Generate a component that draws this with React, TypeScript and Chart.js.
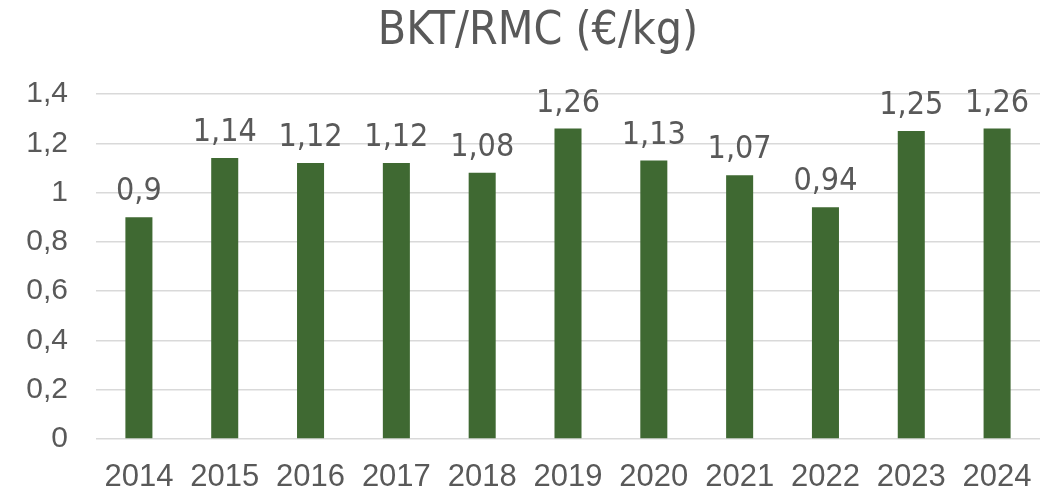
import React, { useEffect, useRef } from "react";
import { Chart, registerables } from "chart.js";

Chart.register(...registerables);

const categories = ["2014", "2015", "2016", "2017", "2018", "2019", "2020", "2021", "2022", "2023", "2024"];
const values = [0.9, 1.14, 1.12, 1.12, 1.08, 1.26, 1.13, 1.07, 0.94, 1.25, 1.26];
const yTicks = [0, 0.2, 0.4, 0.6, 0.8, 1, 1.2, 1.4];
const titleText = "BKT/RMC (€/kg)";

const fmt = (v: number) => String(Math.round(v * 100) / 100).replace(".", ",");

const dataLabels = {
  id: "dataLabels",
  afterLayout(chart: any) {
    if (chart.titleBlock) {
      chart.titleBlock.left = 36;
    }
  },
  afterDatasetsDraw(chart: any) {
    const ctx = chart.ctx;
    const meta = chart.getDatasetMeta(0);
    ctx.save();
    ctx.font = '32px "Liberation Sans Narrow", "DejaVu Sans Condensed", sans-serif';
    ctx.fillStyle = "#595959";
    ctx.textAlign = "center";
    ctx.textBaseline = "alphabetic";
    meta.data.forEach((bar: any, i: number) => {
      ctx.fillText(fmt(values[i]), bar.x, bar.y - 17);
    });
    ctx.restore();
  },
};

export default function App() {
  const ref = useRef<HTMLCanvasElement | null>(null);
  useEffect(() => {
    document.body.style.margin = "0";
    const chart = new Chart(ref.current as HTMLCanvasElement, {
      type: "bar",
      data: {
        labels: categories,
        datasets: [
          {
            data: values,
            backgroundColor: "#3f6932",
            barPercentage: 0.315,
            categoryPercentage: 1,
          },
        ],
      },
      options: {
        animation: false,
        responsive: false,
        layout: { padding: { left: 0, right: 14, top: 0, bottom: 0 } },
        plugins: {
          legend: { display: false },
          tooltip: { enabled: false },
          title: {
            display: true,
            text: titleText,
            color: "#595959",
            font: { family: '"DejaVu Sans Condensed", "Liberation Sans Narrow", sans-serif', size: 46, weight: "normal" },
            padding: { top: 4.4, bottom: 34.4 },
          },
        },
        scales: {
          x: {
            grid: { display: false, drawTicks: false },
            border: { display: false },
            ticks: {
              color: "#595959",
              font: { family: '"Liberation Sans", Arial, sans-serif', size: 31 },
              padding: 20,
              maxRotation: 0,
              autoSkip: false,
            },
            afterFit: (s: any) => {
              s.height = 50;
            },
          },
          y: {
            min: 0,
            max: 1.4,
            afterBuildTicks: (s: any) => {
              s.ticks = yTicks.map((v) => ({ value: v }));
            },
            grid: { color: "#d9d9d9", lineWidth: 1.5, drawTicks: false },
            border: { display: false },
            ticks: {
              color: "#595959",
              font: { family: '"Liberation Sans", Arial, sans-serif', size: 30 },
              padding: 28,
              callback: (v: any) => fmt(Number(v)),
            },
            afterFit: (s: any) => {
              s.width = 96;
            },
          },
        },
      },
      plugins: [dataLabels],
    });
    return () => chart.destroy();
  }, []);
  return (
    <div style={{ position: "fixed", left: 0, top: 0, width: 1054, height: 489, background: "#fff" }}>
      <canvas ref={ref} width={1054} height={489} />
    </div>
  );
}
